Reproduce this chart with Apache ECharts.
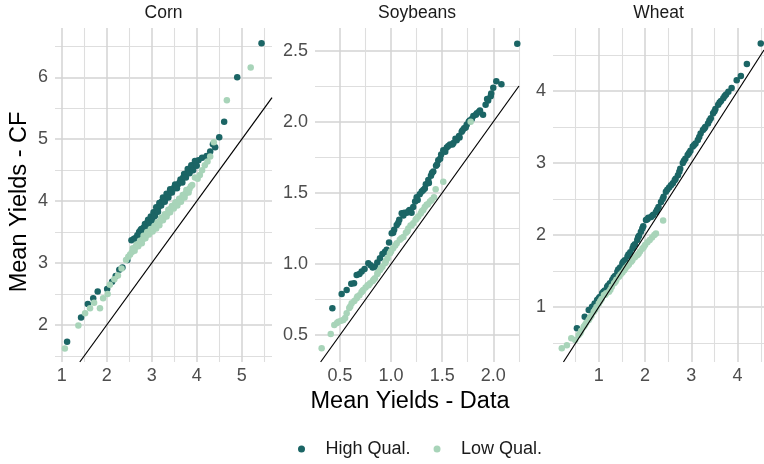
<!DOCTYPE html>
<html>
<head>
<meta charset="utf-8">
<script src="https://cdn.jsdelivr.net/npm/echarts@6/dist/echarts.min.js"></script>
<style>
  html, body { margin: 0; padding: 0; background: #fff; }
  #chart { width: 764px; height: 464px; }
</style>
</head>
<body>
<div id="chart"></div>
<script>
const panels = ["Corn", "Soybeans", "Wheat"];
const seriesNames = ["High Qual.", "Low Qual."];

// [data mean, counterfactual mean] pairs
const cornHigh = [
  [1.12,1.73],[1.43,2.12],[1.58,2.34],[1.70,2.43],[1.80,2.54],[2.01,2.58],[2.12,2.70],[2.20,2.79],
  [2.28,2.89],[2.35,2.93],[2.46,3.05],[2.55,3.37],[2.60,3.39],[2.63,3.40],[2.68,3.45],[2.72,3.50],
  [2.75,3.53],[2.78,3.50],[2.80,3.56],[2.83,3.58],[2.86,3.60],[2.88,3.62],[2.90,3.65],[2.93,3.68],
  [2.96,3.70],[2.99,3.69],[3.02,3.74],[3.05,3.78],[3.08,3.82],[3.12,3.86],[3.15,3.90],[3.18,3.95],
  [3.22,3.99],[3.26,4.01],[3.30,4.04],[3.34,4.08],[3.38,4.12],[3.42,4.16],[3.46,4.18],[3.50,4.22],
  [3.54,4.25],[3.58,4.27],[3.62,4.30],[3.66,4.32],[3.70,4.38],[3.74,4.42],[3.78,4.45],[3.82,4.48],
  [3.86,4.52],[3.90,4.55],[3.94,4.58],[3.98,4.62],[4.04,4.66],[4.12,4.70],[4.22,4.73],[4.30,4.80],
  [4.36,4.92],[4.41,4.87],[4.50,5.03],[4.61,5.28],[4.90,6.00],[5.44,6.55],
  [2.70,3.42],[2.74,3.46],[2.77,3.55],[2.82,3.52],[2.85,3.63],[2.89,3.58],[2.92,3.70],[2.95,3.64],
  [2.98,3.75],[3.01,3.70],[3.04,3.82],[3.07,3.76],[3.10,3.90],[3.14,3.83],[3.17,3.97],[3.21,3.93],
  [3.25,4.06],[3.29,3.99],[3.33,4.12],[3.37,4.06],[3.41,4.19],[3.45,4.14],[3.52,4.27],[3.56,4.21],
  [3.64,4.35],[3.68,4.30],[3.72,4.44],[3.76,4.38],[3.80,4.52],[3.84,4.45],[3.88,4.58],[3.92,4.50],
  [3.96,4.65],[4.00,4.57]
];
const cornLow = [
  [1.07,1.62],[1.37,1.99],[1.52,2.19],[1.63,2.27],[1.72,2.36],[1.85,2.27],[1.92,2.43],[2.02,2.50],
  [2.07,2.65],[2.17,2.74],[2.25,2.80],[2.33,2.91],[2.43,3.05],[2.48,3.10],[2.52,3.14],[2.56,3.18],
  [2.60,3.22],[2.64,3.26],[2.68,3.29],[2.72,3.31],[2.76,3.34],[2.80,3.38],[2.84,3.42],[2.88,3.45],
  [2.92,3.48],[2.96,3.50],[3.00,3.52],[3.04,3.55],[3.08,3.58],[3.11,3.62],[3.15,3.64],[3.19,3.68],
  [3.23,3.71],[3.27,3.74],[3.31,3.77],[3.35,3.80],[3.39,3.84],[3.43,3.88],[3.47,3.91],[3.51,3.94],
  [3.55,3.96],[3.59,3.99],[3.63,4.02],[3.67,4.05],[3.71,4.08],[3.75,4.12],[3.79,4.16],[3.84,4.20],
  [3.90,4.26],[3.96,4.38],[4.02,4.36],[4.07,4.42],[4.12,4.50],[4.18,4.58],[4.24,4.64],[4.30,4.72],
  [4.38,4.95],[4.67,5.63],[5.20,6.16],
  [2.58,3.24],[2.62,3.20],[2.66,3.30],[2.70,3.27],[2.74,3.36],[2.78,3.32],[2.82,3.44],[2.86,3.40],
  [2.90,3.50],[2.94,3.46],[2.98,3.55],[3.02,3.51],[3.06,3.60],[3.10,3.56],[3.13,3.66],[3.17,3.61],
  [3.21,3.73],[3.25,3.69],[3.29,3.79],[3.33,3.75],[3.37,3.86],[3.41,3.82],[3.45,3.92],[3.49,3.88],
  [3.53,3.98],[3.57,3.93],[3.61,4.04],[3.65,3.99],[3.69,4.10],[3.73,4.06],[3.77,4.18],[3.82,4.14],
  [3.87,4.24]
];
const soyHigh = [
  [0.425,0.688],[0.516,0.789],[0.565,0.817],[0.610,0.860],[0.637,0.864],[0.663,0.922],[0.690,0.930],
  [0.712,0.946],[0.740,0.965],[0.777,1.005],[0.800,0.990],[0.820,0.975],[0.842,0.980],[0.865,1.010],
  [0.891,1.040],[0.915,1.070],[0.940,1.085],[0.957,1.100],[0.980,1.150],[1.006,1.216],[1.030,1.240],
  [1.055,1.274],[1.080,1.310],[1.104,1.357],[1.130,1.360],[1.153,1.360],[1.180,1.380],[1.217,1.400],
  [1.235,1.440],[1.250,1.470],[1.280,1.490],[1.315,1.520],[1.340,1.560],[1.364,1.590],[1.390,1.620],
  [1.413,1.650],[1.440,1.690],[1.462,1.730],[1.490,1.770],[1.511,1.800],[1.545,1.820],[1.577,1.840],
  [1.610,1.850],[1.642,1.870],[1.665,1.900],[1.691,1.930],[1.715,1.955],[1.740,1.980],[1.770,2.010],
  [1.805,2.040],[1.840,2.060],[1.870,2.080],[1.900,2.050],[1.925,2.120],[1.950,2.150],[1.975,2.180],
  [2.000,2.240],[2.030,2.285],[2.080,2.265],[2.235,2.550],
  [1.02,1.22],[1.07,1.29],[1.12,1.34],[1.17,1.37],[1.20,1.36],[1.26,1.45],[1.30,1.51],[1.33,1.53],
  [1.37,1.57],[1.40,1.64],[1.45,1.70],[1.48,1.74],[1.53,1.79],[1.56,1.83],[1.60,1.84],[1.63,1.88],
  [1.67,1.89],[1.70,1.94],[1.73,1.96],[1.76,2.00],[1.79,2.02],[1.83,2.05],[1.86,2.07],[1.94,2.16],
  [1.98,2.20]
];
const soyLow = [
  [0.320,0.406],[0.409,0.507],[0.444,0.570],[0.470,0.585],[0.483,0.594],[0.510,0.600],[0.532,0.606],
  [0.550,0.620],[0.565,0.653],[0.590,0.690],[0.614,0.723],[0.640,0.740],[0.663,0.758],[0.690,0.780],
  [0.710,0.800],[0.728,0.817],[0.750,0.835],[0.770,0.850],[0.794,0.864],[0.820,0.880],[0.842,0.899],
  [0.865,0.930],[0.891,0.958],[0.915,0.980],[0.940,1.005],[0.965,1.040],[0.989,1.075],[1.020,1.110],
  [1.055,1.145],[1.085,1.170],[1.120,1.190],[1.145,1.220],[1.168,1.250],[1.190,1.270],[1.217,1.286],
  [1.240,1.310],[1.266,1.333],[1.290,1.355],[1.315,1.380],[1.348,1.417],[1.380,1.440],[1.397,1.450],
  [1.436,1.525],[1.511,1.578],[1.779,2.000],
  [0.60,0.70],[0.67,0.77],[0.72,0.81],[0.78,0.85],[0.83,0.89],[0.87,0.94],[0.90,0.97],[0.95,1.02],
  [1.00,1.09],[1.04,1.13],[1.10,1.18],[1.16,1.23],[1.20,1.27],[1.25,1.32],[1.30,1.37],[1.33,1.40],
  [1.36,1.42],[1.42,1.47]
];
const wheatHigh = [
  [0.527,0.704],[0.695,0.865],[0.782,0.958],[0.854,1.004],[0.910,1.050],[0.963,1.097],[1.020,1.140],
  [1.072,1.190],[1.130,1.230],[1.180,1.280],[1.240,1.330],[1.290,1.375],[1.350,1.430],[1.400,1.490],
  [1.460,1.550],[1.510,1.607],[1.560,1.650],[1.620,1.700],[1.680,1.760],[1.730,1.815],[1.780,1.870],
  [1.830,1.930],[1.870,1.990],[1.910,2.046],[1.960,2.120],[2.020,2.210],[2.070,2.240],[2.130,2.250],
  [2.180,2.280],[2.235,2.320],[2.290,2.390],[2.344,2.460],[2.400,2.530],[2.450,2.600],[2.520,2.660],
  [2.600,2.720],[2.660,2.780],[2.710,2.830],[2.760,2.920],[2.815,3.000],[2.870,3.060],[2.920,3.110],
  [2.980,3.170],[3.030,3.230],[3.090,3.270],[3.140,3.320],[3.200,3.410],[3.250,3.460],[3.300,3.500],
  [3.360,3.550],[3.420,3.620],[3.470,3.690],[3.520,3.750],[3.580,3.810],[3.640,3.860],[3.690,3.900],
  [3.750,3.950],[3.800,3.990],[3.870,4.040],[3.980,4.150],[4.070,4.210],[4.200,4.375],[4.500,4.660],
  [1.00,1.12],[1.10,1.21],[1.20,1.30],[1.32,1.41],[1.42,1.52],[1.53,1.63],[1.64,1.73],[1.75,1.85],
  [1.85,1.97],[1.94,2.09],[2.05,2.22],[2.16,2.27],[2.26,2.35],[2.38,2.50],[2.48,2.63],[2.56,2.69],
  [2.64,2.76],[2.74,2.88],[2.84,3.03],[2.95,3.14],[3.06,3.25],[3.17,3.36],[3.28,3.48],[3.39,3.59],
  [3.50,3.72],[3.61,3.84],[3.72,3.93]
];
const wheatLow = [
  [0.200,0.426],[0.310,0.470],[0.405,0.565],[0.490,0.540],[0.564,0.610],[0.620,0.670],[0.673,0.726],
  [0.730,0.780],[0.782,0.820],[0.840,0.880],[0.890,0.935],[0.950,1.000],[1.000,1.050],[1.060,1.110],
  [1.110,1.167],[1.160,1.190],[1.220,1.210],[1.280,1.280],[1.330,1.330],[1.380,1.380],[1.435,1.420],
  [1.510,1.480],[1.580,1.540],[1.650,1.590],[1.725,1.650],[1.780,1.690],[1.830,1.720],[1.890,1.770],
  [1.940,1.810],[2.000,1.860],[2.050,1.900],[2.150,1.965],[2.235,2.020],[2.390,2.200],
  [0.60,0.64],[0.70,0.75],[0.81,0.85],[0.92,0.96],[1.03,1.08],[1.14,1.17],[1.25,1.24],[1.36,1.35],
  [1.47,1.45],[1.55,1.51],[1.62,1.57],[1.70,1.63],[1.86,1.74],[1.97,1.83],[2.10,1.93],[2.20,2.00]
];

// axis limits and breaks per panel
const xLimits = [[0.851, 5.673], [0.255, 2.252], [0.01, 4.57]];
const yLimits = [[1.402, 6.796], [0.31, 2.66], [0.236, 4.875]];
const xBreaks = [[1, 2, 3, 4, 5], [0.5, 1.0, 1.5, 2.0], [1, 2, 3, 4]];
const yBreaks = [[2, 3, 4, 5, 6], [0.5, 1.0, 1.5, 2.0, 2.5], [1, 2, 3, 4]];
const xMinorBreaks = [[1.5, 2.5, 3.5, 4.5, 5.5], [0.75, 1.25, 1.75, 2.25], [0.5, 1.5, 2.5, 3.5, 4.5]];
const yMinorBreaks = [[1.5, 2.5, 3.5, 4.5, 5.5, 6.5], [0.75, 1.25, 1.75, 2.25], [0.5, 1.5, 2.5, 3.5, 4.5]];
const labelDigits = [0, 1, 0];

const FONT = '"Liberation Sans", Arial, sans-serif';
const HIGH = "#1b6565";
const LOW = "#a8d4b9";
const panelBoxes = [
  { left: 55, width: 217 },
  { left: 315, width: 204 },
  { left: 553, width: 211 }
];
const TOP = 28;
const HEIGHT = 334;

const chart = echarts.init(document.getElementById("chart"), null, { renderer: "canvas" });

function majorAxis(i, lim, breaks, isX) {
  return {
    type: "value",
    gridIndex: i,
    min: lim[0],
    max: lim[1],
    axisLine: { show: false },
    axisTick: { show: false, customValues: breaks },
    axisLabel: {
      customValues: breaks,
      formatter: (v) => Number(v).toFixed(labelDigits[i]),
      color: "#4d4d4d",
      fontSize: 18,
      fontFamily: FONT,
      margin: isX ? 5 : 7
    },
    splitLine: { show: true, lineStyle: { color: "#d3d3d3", width: 1.5 } }
  };
}

function minorAxis(i, lim, breaks) {
  return {
    type: "value",
    gridIndex: i,
    min: lim[0],
    max: lim[1],
    axisLine: { show: false },
    axisTick: { show: false, customValues: breaks },
    axisLabel: { show: false, customValues: breaks },
    splitLine: { show: true, lineStyle: { color: "#dedede", width: 1.1 } }
  };
}

const grids = panelBoxes.map((b) => ({ left: b.left, width: b.width, top: TOP, height: HEIGHT }));
const xAxes = [];
const yAxes = [];
panels.forEach((_, i) => {
  xAxes.push(majorAxis(i, xLimits[i], xBreaks[i], true));
  yAxes.push(majorAxis(i, yLimits[i], yBreaks[i], false));
});
panels.forEach((_, i) => {
  xAxes.push(minorAxis(i, xLimits[i], xMinorBreaks[i]));
  yAxes.push(minorAxis(i, yLimits[i], yMinorBreaks[i]));
});

const pointSets = [[cornHigh, cornLow], [soyHigh, soyLow], [wheatHigh, wheatLow]];
const series = [];
pointSets.forEach((sets, i) => {
  sets.forEach((data, k) => {
    series.push({
      type: "scatter",
      name: seriesNames[k],
      xAxisIndex: i,
      yAxisIndex: i,
      data: data,
      symbol: "circle",
      symbolSize: 6.5,
      itemStyle: { color: k === 0 ? HIGH : LOW, opacity: 1 },
      z: 2 + k
    });
  });
  // 45-degree reference line, clipped to the panel
  const lo = Math.max(xLimits[i][0], yLimits[i][0]);
  const hi = Math.min(xLimits[i][1], yLimits[i][1]);
  series.push({
    type: "line",
    name: "y = x",
    xAxisIndex: i,
    yAxisIndex: i,
    data: [[lo, lo], [hi, hi]],
    symbol: "none",
    silent: true,
    lineStyle: { color: "#000", width: 1.2 },
    z: 5
  });
});

const graphics = panels.map((name, i) => ({
  type: "text",
  x: panelBoxes[i].left + panelBoxes[i].width / 2,
  y: 13,
  style: {
    text: name, fontSize: 17.5, fontFamily: FONT, fill: "#1a1a1a",
    align: "center", verticalAlign: "middle", textAlign: "center", textVerticalAlign: "middle"
  }
}));
graphics.push({
  type: "text",
  x: 410,
  y: 402,
  style: {
    text: "Mean Yields - Data", fontSize: 23.5, fontFamily: FONT, fill: "#000",
    align: "center", verticalAlign: "middle", textAlign: "center", textVerticalAlign: "middle"
  }
});
graphics.push({
  type: "text",
  x: 20,
  y: 202,
  rotation: Math.PI / 2,
  style: {
    text: "Mean Yields - CF", fontSize: 23.5, fontFamily: FONT, fill: "#000",
    align: "center", verticalAlign: "middle", textAlign: "center", textVerticalAlign: "middle"
  }
});

chart.setOption({
  animation: false,
  backgroundColor: "#fff",
  grid: grids,
  xAxis: xAxes,
  yAxis: yAxes,
  legend: {
    data: seriesNames,
    left: 298,
    top: 440,
    padding: 0,
    icon: "circle",
    itemWidth: 38,
    itemHeight: 7,
    itemGap: 23,
    selectedMode: false,
    textStyle: { fontSize: 18, color: "#1a1a1a", fontFamily: FONT }
  },
  graphic: graphics,
  series: series
});
</script>
</body>
</html>
